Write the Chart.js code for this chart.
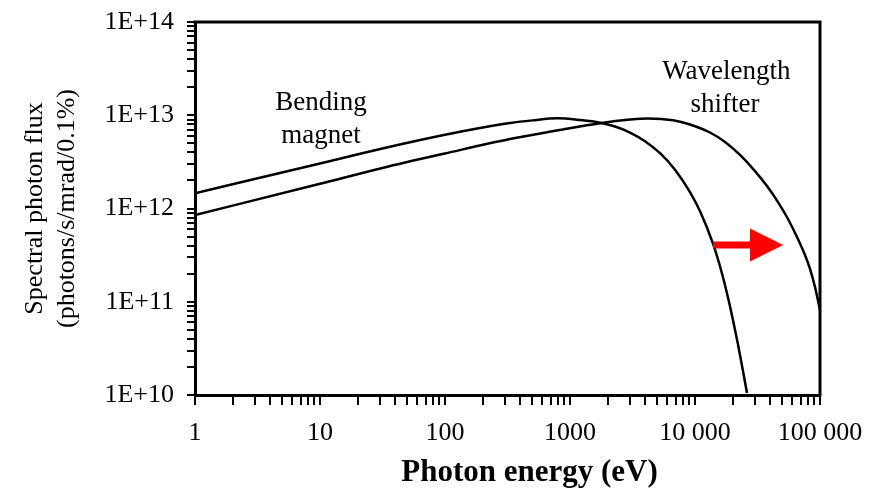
<!DOCTYPE html>
<html><head><meta charset="utf-8">
<script src="https://cdn.jsdelivr.net/npm/chart.js@4/dist/chart.umd.min.js"></script>
<style>html,body{margin:0;padding:0;background:#fff;overflow:hidden}#wrap{width:871px;height:488px}</style>
</head><body><div id="wrap"><canvas id="c" width="871" height="488"></canvas></div>
<script>
// Bending magnet spectrum (photon energy in eV, flux)
const bmEnergy = [1, 10, 31.6, 100, 200, 331, 500, 790, 1200, 1740, 2290, 3020, 3980, 5250, 6920, 9120, 10970, 13930, 16440, 19050, 22080, 24660, 26060];
const bmFlux   = [1.46e12, 3.04e12, 4.4e12, 6.17e12, 7.38e12, 8.26e12, 8.81e12, 9.27e12, 8.89e12, 8.32e12, 7.57e12, 6.53e12, 5.27e12, 3.92e12, 2.61e12, 1.50e12, 9.35e11, 4.2e11, 2.01e11, 8.96e10, 3.47e10, 1.58e10, 1.05e10];
// Wavelength shifter spectrum
const wsEnergy = [1, 10, 31.6, 100, 331, 790, 1740, 3020, 4210, 6670, 9120, 13180, 17380, 22910, 30200, 37670, 46130, 55460, 65460, 75860, 83180, 91200, 100000];
const wsFlux   = [8.51e11, 1.84e12, 2.72e12, 3.89e12, 5.56e12, 6.86e12, 8.22e12, 8.98e12, 9.23e12, 8.83e12, 7.96e12, 6.53e12, 5.17e12, 3.75e12, 2.52e12, 1.74e12, 1.17e12, 7.72e11, 4.95e11, 3.17e11, 2.25e11, 1.44e11, 8.16e10];

// Axis ticks and labels
const xMajorValues = [1, 10, 100, 1000, 10000, 100000];
const xTickLabels  = ['1', '10', '100', '1000', '10 000', '100 000'];
const yMajorValues = [1e10, 1e11, 1e12, 1e13, 1e14];
const yTickLabels  = ['1E+10', '1E+11', '1E+12', '1E+13', '1E+14'];
const minorSteps   = [2, 3, 4, 5, 6, 7, 8, 9];

// Annotations (data coordinates)
const annoText   = ['Bending', 'magnet', 'Wavelength', 'shifter'];
const annoEnergy = [10.2, 10.2, 17800, 17400];
const annoFlux   = [1.14e13, 5.04e12, 2.45e13, 1.08e13];
const arrowTail  = [13930, 4.06e11];
const arrowTip   = [50600, 4.06e11];

const xTitle = 'Photon energy (eV)';
const yTitle = ['Spectral photon flux', '(photons/s/mrad/0.1%)'];

function logTicks(majors) {
  const out = [];
  majors.forEach((m, i) => {
    out.push({value: m, major: true});
    if (i < majors.length - 1) minorSteps.forEach(s => out.push({value: m * s, major: false}));
  });
  out.sort((a, b) => a.value - b.value);
  return out;
}

function noPad(s) { s.paddingTop = 0; s.paddingBottom = 0; s.paddingLeft = 0; s.paddingRight = 0; }

const SERIF = '"Liberation Serif", "Times New Roman", serif';

const decor = {
  id: 'decor',
  afterDatasetsDraw(chart) {
    const {ctx, scales: {x, y}} = chart;
    ctx.save();
    // red arrow
    const x0 = x.getPixelForValue(arrowTail[0]);
    const y0 = y.getPixelForValue(arrowTail[1]);
    const x1 = x.getPixelForValue(arrowTip[0]);
    const headLen = 33, headHalf = 16.5, shaftHalf = 3.5;
    ctx.fillStyle = '#ff0000';
    ctx.beginPath();
    ctx.moveTo(x0, y0 - shaftHalf);
    ctx.lineTo(x1 - headLen, y0 - shaftHalf);
    ctx.lineTo(x1 - headLen, y0 - headHalf);
    ctx.lineTo(x1, y0);
    ctx.lineTo(x1 - headLen, y0 + headHalf);
    ctx.lineTo(x1 - headLen, y0 + shaftHalf);
    ctx.lineTo(x0, y0 + shaftHalf);
    ctx.closePath();
    ctx.fill();
    // text labels
    ctx.fillStyle = '#000';
    ctx.font = '27px ' + SERIF;
    ctx.textAlign = 'center';
    ctx.textBaseline = 'alphabetic';
    annoText.forEach((t, i) => ctx.fillText(t, x.getPixelForValue(annoEnergy[i]), y.getPixelForValue(annoFlux[i])));
    ctx.restore();
  },
  afterDraw(chart) {
    const {ctx, chartArea: a, scales: {x}} = chart;
    ctx.save();
    ctx.strokeStyle = '#000';
    ctx.lineWidth = 3;
    ctx.beginPath();
    ctx.moveTo(a.left - 1.5, a.top);
    ctx.lineTo(a.right + 1.5, a.top);
    ctx.moveTo(a.right, a.top);
    ctx.lineTo(a.right, a.bottom + 1.5);
    ctx.stroke();
    // x axis title
    ctx.fillStyle = '#000';
    ctx.font = 'bold 31px ' + SERIF;
    ctx.textAlign = 'center';
    ctx.textBaseline = 'alphabetic';
    ctx.fillText(xTitle, (x.left + x.right) / 2 + 22, chart.height - 7);
    ctx.restore();
  }
};

new Chart(document.getElementById('c'), {
  type: 'line',
  data: {
    datasets: [
      {label: 'Bending magnet', data: bmEnergy.map((e, i) => ({x: e, y: bmFlux[i]})),
       borderColor: '#000', borderWidth: 2.5, pointRadius: 0, cubicInterpolationMode: 'monotone', fill: false},
      {label: 'Wavelength shifter', data: wsEnergy.map((e, i) => ({x: e, y: wsFlux[i]})),
       borderColor: '#000', borderWidth: 2.5, pointRadius: 0, cubicInterpolationMode: 'monotone', fill: false}
    ]
  },
  options: {
    responsive: false,
    animation: false,
    devicePixelRatio: 1,
    layout: {padding: {top: 22, right: 51, left: 0, bottom: 0}},
    plugins: {legend: {display: false}, tooltip: {enabled: false}, title: {display: false}},
    scales: {
      x: {
        type: 'logarithmic', min: 1, max: 100000, position: 'bottom',
        afterBuildTicks: s => { s.ticks = logTicks(xMajorValues); },
        afterFit: s => { s.height = 93; noPad(s); },
        grid: {drawOnChartArea: false, drawTicks: true, tickLength: 10, color: '#000', lineWidth: 2},
        border: {display: true, color: '#000', width: 3},
        ticks: {
          autoSkip: false, maxRotation: 0, minRotation: 0, padding: 13, color: '#000',
          font: {family: SERIF, size: 26},
          callback: v => { const k = xMajorValues.indexOf(v); return k >= 0 ? xTickLabels[k] : ''; }
        }
      },
      y: {
        type: 'logarithmic', min: 1e10, max: 1e14, position: 'left',
        afterBuildTicks: s => { s.ticks = logTicks(yMajorValues); },
        afterFit: s => { s.width = 195; noPad(s); },
        grid: {drawOnChartArea: false, drawTicks: true, tickLength: 8, color: '#000', lineWidth: 2},
        border: {display: true, color: '#000', width: 3},
        title: {display: true, text: yTitle, color: '#000', font: {family: SERIF, size: 26, lineHeight: 1.2}, padding: {top: 20, bottom: 0}},
        ticks: {
          autoSkip: false, padding: 13, color: '#000',
          font: {family: SERIF, size: 26},
          callback: v => { const k = yMajorValues.indexOf(v); return k >= 0 ? yTickLabels[k] : ''; }
        }
      }
    }
  },
  plugins: [decor]
});
</script>
</body></html>
